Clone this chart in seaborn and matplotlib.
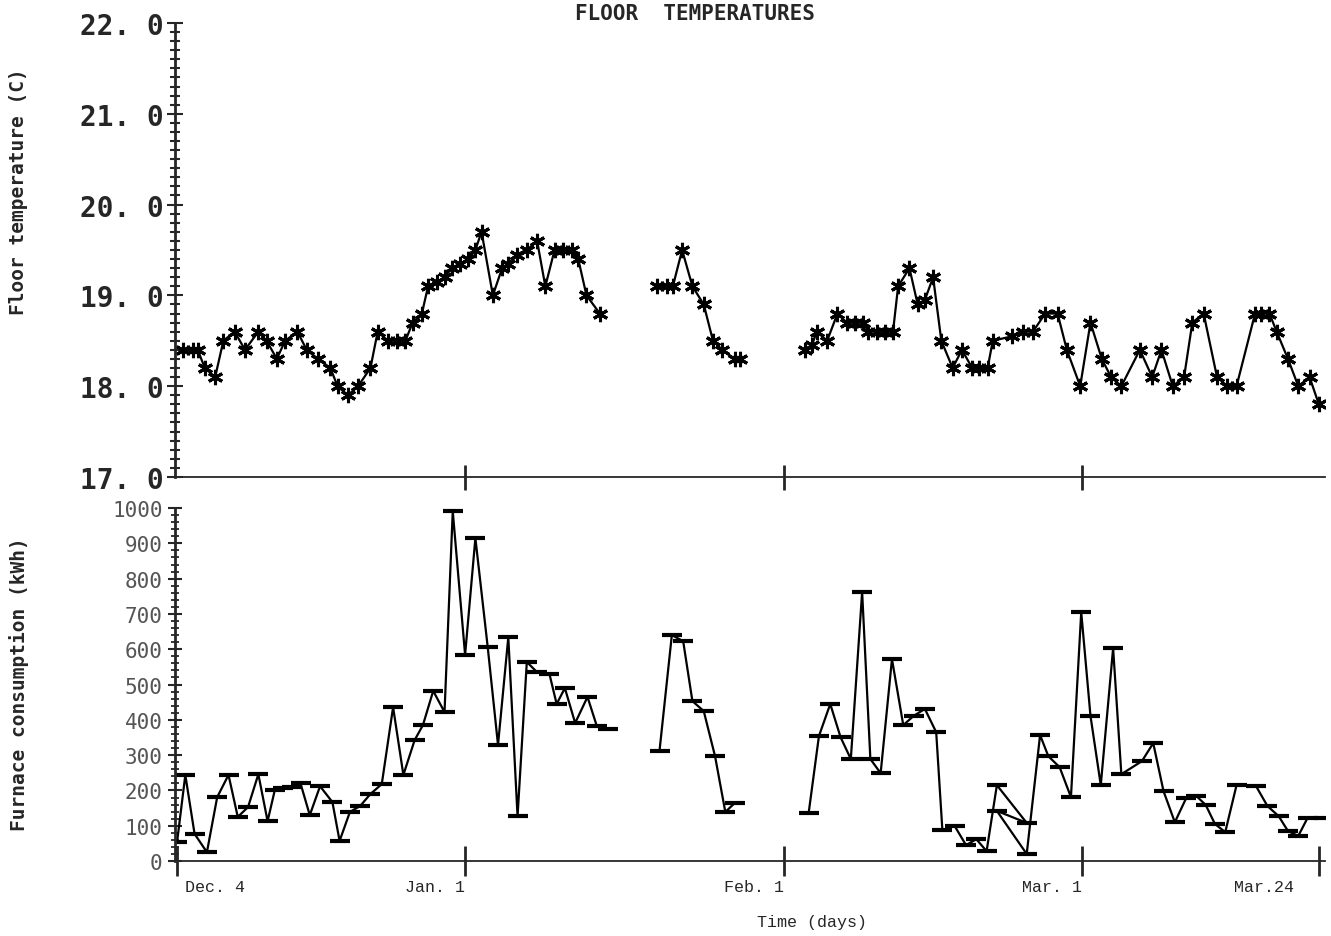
import numpy as np
import pandas as pd
import matplotlib
matplotlib.use("Agg")
import matplotlib.pyplot as plt
import matplotlib.transforms as mtransforms
from matplotlib.ticker import MultipleLocator
import seaborn as sns

# days counted from Dec. 4
tick_days = [0, 28, 59, 88, 111]
tick_labels = ["Dec. 4", "Jan. 1", "Feb. 1", "Mar. 1", "Mar.24"]

# floor temperature (C), three measured stretches
temp_day_1 = [0.6, 1.5, 2.0, 2.7, 3.7, 4.5, 5.6, 6.6, 7.9, 8.7, 9.7, 10.5, 11.7, 12.6,
              13.7, 14.9, 15.6, 16.6, 17.6, 18.8, 19.5, 20.5, 21.4, 22.2, 22.9, 23.8,
              24.4, 25.3, 26.0, 26.7, 27.5, 28.3, 29.0, 29.6, 30.7, 31.6, 32.2, 33.0,
              34.0, 35.0, 35.8, 36.7, 37.5, 38.4, 39.0, 39.8, 41.1]
temp_val_1 = [18.4, 18.4, 18.4, 18.2, 18.1, 18.5, 18.6, 18.4, 18.6, 18.5, 18.3, 18.5,
              18.6, 18.4, 18.3, 18.2, 18.0, 17.9, 18.0, 18.2, 18.6, 18.5, 18.5, 18.5,
              18.7, 18.8, 19.1, 19.15, 19.2, 19.3, 19.35, 19.4, 19.5, 19.7, 19.0, 19.3,
              19.35, 19.45, 19.5, 19.6, 19.1, 19.5, 19.5, 19.5, 19.4, 19.0, 18.8]
temp_day_2 = [46.7, 47.6, 48.2, 49.1, 50.1, 51.2, 52.1, 53.0, 54.2, 54.7]
temp_val_2 = [19.1, 19.1, 19.1, 19.5, 19.1, 18.9, 18.5, 18.4, 18.3, 18.3]
temp_day_3 = [61.0, 61.7, 62.2, 63.2, 64.2, 65.1, 65.9, 66.7, 67.2, 68.0, 68.8, 69.6,
              70.1, 71.2, 72.0, 72.7, 73.5, 74.3, 75.4, 76.3, 77.3, 78.0, 78.8, 79.3,
              81.2, 82.2, 83.2, 84.4, 85.6, 86.5, 87.8, 88.8, 89.9, 90.8, 91.8, 93.6,
              94.8, 95.7, 96.8, 97.9, 98.7, 99.8, 101.1, 102.1, 103.0, 104.8, 105.4,
              106.2, 106.9, 108.0, 109.0, 110.1, 111.0]
temp_val_3 = [18.4, 18.45, 18.6, 18.5, 18.8, 18.7, 18.7, 18.7, 18.6, 18.6, 18.6, 18.6,
              19.1, 19.3, 18.9, 18.95, 19.2, 18.5, 18.2, 18.4, 18.2, 18.2, 18.2, 18.5,
              18.55, 18.6, 18.6, 18.8, 18.8, 18.4, 18.0, 18.7, 18.3, 18.1, 18.0, 18.4,
              18.1, 18.4, 18.0, 18.1, 18.7, 18.8, 18.1, 18.0, 18.0, 18.8, 18.8, 18.8,
              18.6, 18.3, 18.0, 18.1, 17.8]

# furnace consumption (kWh)
fuel_day_1 = [0.0, 0.8, 1.7, 2.9, 3.9, 5.0, 5.9, 6.9, 7.9, 8.8, 9.5, 10.3, 11.2, 12.0,
              12.9, 13.9, 15.1, 15.8, 16.8, 17.8, 18.8, 19.9, 21.0, 22.0, 23.1, 23.9,
              24.9, 26.0, 26.8, 28.0, 29.0, 30.2, 31.2, 32.2, 33.1, 34.0, 35.0, 36.2,
              36.9, 37.7, 38.7, 39.9, 40.8, 41.9]
fuel_val_1 = [54, 244, 77, 25, 181, 244, 125, 153, 246, 113, 201, 206, 210, 220, 130,
              212, 167, 57, 139, 156, 190, 218, 436, 244, 343, 385, 482, 422, 991, 584,
              915, 606, 329, 634, 127, 564, 535, 530, 445, 490, 391, 465, 383, 374]
fuel_day_2 = [46.9, 48.1, 49.2, 50.1, 51.2, 52.3, 53.3, 54.2]
fuel_val_2 = [312, 640, 623, 453, 425, 297, 139, 164]
fuel_day_3 = [61.4, 62.4, 63.5, 64.5, 65.5, 66.6, 67.4, 68.4, 69.5, 70.6, 71.6, 72.7,
              73.8, 74.4, 75.6, 76.7, 77.7, 78.7, 79.7, 82.6, 79.7, 82.6, 83.9, 84.7,
              85.8, 86.9, 87.9, 88.8, 89.8, 91.0, 91.8, 93.8, 94.9, 95.9, 97.0, 98.1,
              99.1, 100.0, 100.9, 101.9, 103.0, 104.9, 106.0, 107.1, 108.0, 109.0,
              109.9, 111.5]
fuel_val_3 = [136, 354, 445, 351, 289, 762, 289, 249, 572, 385, 411, 431, 365, 88, 99,
              45, 62, 28, 215, 108, 142, 20, 357, 297, 266, 181, 705, 411, 215, 603,
              246, 283, 334, 198, 110, 178, 184, 159, 105, 82, 215, 212, 156, 127, 85,
              71, 122, 122]


def build(parts):
    frames = []
    for i, (d, v) in enumerate(parts):
        frames.append(pd.DataFrame({"day": d, "value": v, "seg": i}))
    return pd.concat(frames, ignore_index=True)


temp = build([(temp_day_1, temp_val_1), (temp_day_2, temp_val_2), (temp_day_3, temp_val_3)])
fuel = build([(fuel_day_1, fuel_val_1), (fuel_day_2, fuel_val_2), (fuel_day_3, fuel_val_3)])

sns.set_style("ticks")
plt.rcParams["font.family"] = ["DejaVu Sans Mono", "DejaVu Sans"]

fig = plt.figure(figsize=(13.31, 9.37), dpi=100)
ax1 = fig.add_axes([0.1315, 0.4899, 0.864, 0.4845])
ax2 = fig.add_axes([0.1315, 0.0800, 0.864, 0.3767])

sns.lineplot(data=temp, x="day", y="value", units="seg", estimator=None, sort=False,
             color="black", lw=1.6, marker=(6, 2, 0), markersize=11,
             markeredgewidth=2.2, markeredgecolor="black", ax=ax1)
sns.lineplot(data=fuel, x="day", y="value", units="seg", estimator=None, sort=False,
             color="black", lw=1.6, marker="_", markersize=14,
             markeredgewidth=3, markeredgecolor="black", ax=ax2)

xmin, xmax = -0.2, 111.6
for ax in (ax1, ax2):
    ax.set_xlim(xmin, xmax)
    ax.set_xlabel("")
    ax.set_ylabel("")
    for s in ("top", "right"):
        ax.spines[s].set_visible(False)
    ax.spines["left"].set_linewidth(2)
    ax.spines["bottom"].set_linewidth(1.3)

# top panel
ax1.set_ylim(17, 22)
ax1.set_yticks(np.arange(17, 23, 1))
ax1.set_yticklabels([f"{v}. 0" for v in range(17, 23)], fontsize=20, fontweight="bold")
ax1.yaxis.set_minor_locator(MultipleLocator(0.1))
ax1.tick_params(axis="y", which="major", direction="inout", length=12, width=1.5, pad=2)
ax1.tick_params(axis="y", which="minor", direction="inout", length=7, width=1.5)
ax1.set_xticks(tick_days[1:4])
ax1.set_xticklabels([])
ax1.tick_params(axis="x", direction="inout", length=18, width=2)

# bottom panel
ax2.set_ylim(0, 1000)
ax2.set_yticks(np.arange(0, 1001, 100))
ax2.set_yticklabels([str(v) for v in range(0, 1001, 100)], fontsize=15, color="#555555")
ax2.yaxis.set_minor_locator(MultipleLocator(20))
ax2.tick_params(axis="y", which="major", direction="inout", length=10, width=1.5, pad=4)
ax2.tick_params(axis="y", which="minor", direction="inout", length=6, width=1.3)
ax2.set_xticks(tick_days)
ax2.set_xticklabels(tick_labels, fontsize=12, family="Liberation Mono")
ax2.tick_params(axis="x", direction="inout", length=22, width=2, pad=2)
labels = ax2.get_xticklabels()
labels[0].set_ha("left")
labels[0].set_transform(labels[0].get_transform() +
                        mtransforms.ScaledTranslation(0.08, 0, fig.dpi_scale_trans))
for lab in labels[1:]:
    lab.set_ha("right")
labels[-1].set_transform(labels[-1].get_transform() +
                         mtransforms.ScaledTranslation(-0.25, 0, fig.dpi_scale_trans))

fig.text(0.522, 0.985, "FLOOR  TEMPERATURES", ha="center", va="center",
         fontsize=15, fontweight="bold")
fig.text(0.61, 0.016, "Time (days)", ha="center", va="center",
         fontsize=12, family="Liberation Mono")
fig.text(0.014, 0.795, "Floor temperature (C)", rotation=90, ha="center", va="center",
         fontsize=14, fontweight="bold")
fig.text(0.014, 0.27, "Furnace consumption (kWh)", rotation=90, ha="center", va="center",
         fontsize=14, fontweight="bold")

fig.savefig("out.png", dpi=100)
